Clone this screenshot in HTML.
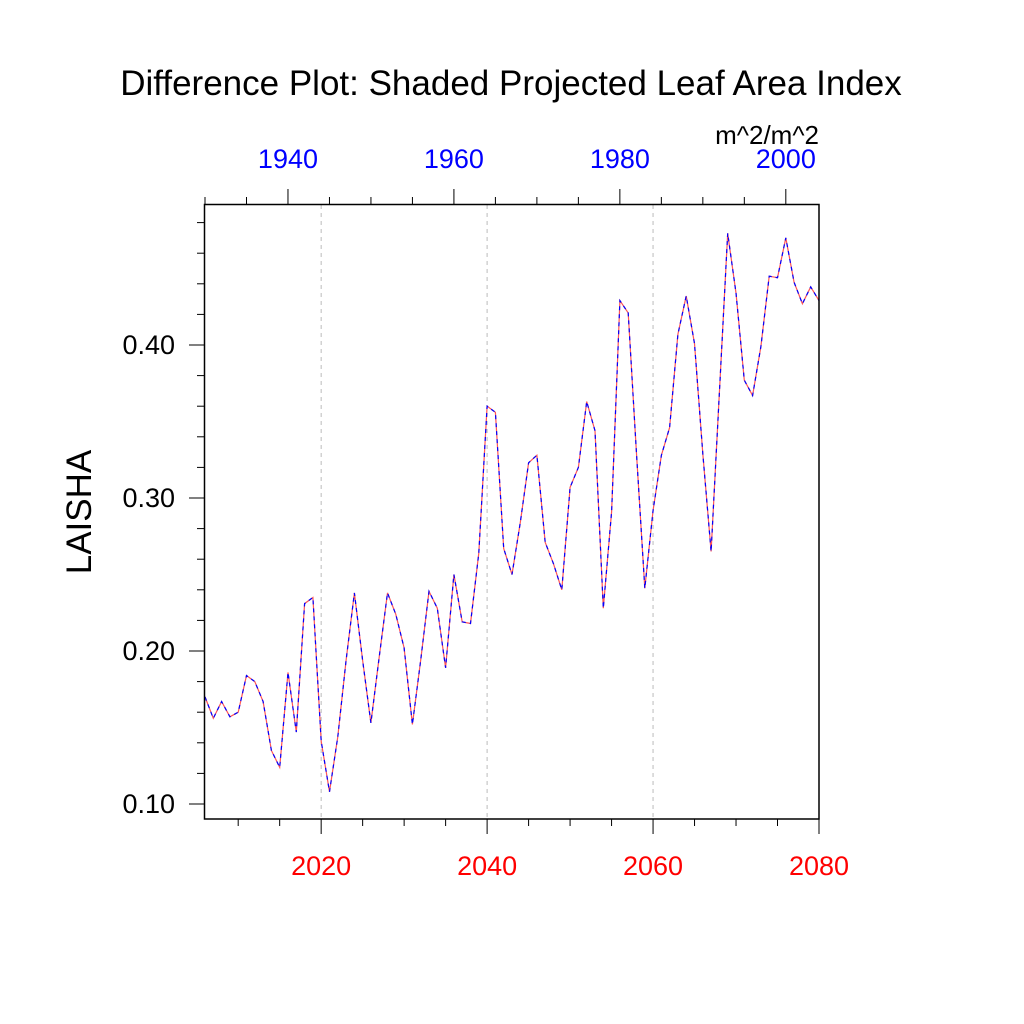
<!DOCTYPE html>
<html><head><meta charset="utf-8"><style>body{margin:0;background:#fff}svg{display:block}</style></head>
<body>
<svg width="1024" height="1024" viewBox="0 0 1024 1024" font-family="Liberation Sans, sans-serif">
<g id="grid"></g>
<g id="ticks"></g>
<g id="lines"></g>
<rect x="204.5" y="204.5" width="614.5" height="614.5" fill="none" stroke="#000" stroke-width="1.5"/>
<text x="511" y="95" font-size="35" text-anchor="middle">Difference Plot: Shaded Projected Leaf Area Index</text>
<text x="819" y="144" font-size="26" text-anchor="end">m^2/m^2</text>
<text x="91" y="512" font-size="35" text-anchor="middle" transform="rotate(-90 91 512)">LAISHA</text>
<g id="labels"></g>
</svg>
<script>
const years = [];
for (let y = 2006; y <= 2080; y++) years.push(y);
const values = [0.170,0.156,0.167,0.157,0.160,0.184,0.180,0.167,0.135,0.124,0.186,0.147,0.231,0.235,0.141,0.108,0.144,0.194,0.238,0.194,0.153,0.196,0.238,0.224,0.202,0.152,0.194,0.239,0.228,0.189,0.250,0.219,0.218,0.264,0.360,0.356,0.267,0.250,0.284,0.323,0.328,0.271,0.257,0.240,0.307,0.320,0.363,0.344,0.228,0.291,0.429,0.421,0.329,0.241,0.292,0.328,0.346,0.407,0.432,0.401,0.329,0.265,0.369,0.473,0.434,0.377,0.367,0.399,0.445,0.444,0.470,0.441,0.427,0.438,0.429];
const bottomTicks = [2020, 2040, 2060, 2080];
const topTicks = [1940, 1960, 1980, 2000];
const yTicks = [0.10, 0.20, 0.30, 0.40];
const topOffset = 76;
const NS = 'http://www.w3.org/2000/svg';
const X0 = 2006, X1 = 2080, PX0 = 205, PX1 = 819;
const xs = v => PX0 + (v - X0) / (X1 - X0) * (PX1 - PX0);
const ys = v => 345 - (v - 0.40) * 1530;
function mk(tag, attrs, parent) {
  const e = document.createElementNS(NS, tag);
  for (const k in attrs) e.setAttribute(k, attrs[k]);
  parent.appendChild(e); return e;
}
const grid = document.getElementById('grid'), ticks = document.getElementById('ticks'), labels = document.getElementById('labels'), lines = document.getElementById('lines');
bottomTicks.forEach(t => {
  if (t < X1) {
    const g = mk('line', {x1: xs(t), x2: xs(t), y1: 205, y2: 819, stroke: '#bbb', 'stroke-width': 1, 'stroke-dasharray': '4,4'}, grid);
    
    
  }
  const tk = mk('line', {x1: xs(t), x2: xs(t), y1: 819, y2: 834, stroke: '#000', 'stroke-width': 1}, ticks);
  
  
  const l = mk('text', {x: xs(t), y: 875, 'font-size': 27, fill: '#f00', 'text-anchor': 'middle'}, labels);
  l.textContent = t;
  
  
});
for (let t = 2010; t < X1; t += 5) {
  if (bottomTicks.includes(t)) continue;
  const tk = mk('line', {x1: xs(t), x2: xs(t), y1: 819, y2: 826, stroke: '#000', 'stroke-width': 1}, ticks);
  
  
}
for (let t = 1930; t <= 2004; t += 5) {
  const x = xs(t + topOffset);
  if (x < 204) continue;
  const major = topTicks.includes(t);
  const tk = mk('line', {x1: x, x2: x, y1: 204, y2: major ? 189 : 197, stroke: '#000', 'stroke-width': 1}, ticks);
  
  
}
topTicks.forEach(t => {
  const l = mk('text', {x: xs(t + topOffset), y: 168, 'font-size': 27, fill: '#00f', 'text-anchor': 'middle'}, labels);
  l.textContent = t;
  
  
});
for (let i = 5; i <= 24; i++) {
  const v = i * 0.02, y = ys(v);
  if (y < 205 || y > 819) continue;
  const major = i % 5 === 0;
  const tk = mk('line', {x1: 204, x2: major ? 189 : 197, y1: y, y2: y, stroke: '#000', 'stroke-width': 1}, ticks);
  
  
}
yTicks.forEach(v => {
  const l = mk('text', {x: 175, y: ys(v) + 9, 'font-size': 27, 'text-anchor': 'end'}, labels);
  l.textContent = v.toFixed(2);
  
  
});
const pts = years.map((yr, i) => xs(yr).toFixed(1) + ',' + ys(values[i]).toFixed(1)).join(' ');
const red = mk('polyline', {points: pts, fill: 'none', stroke: '#f55', 'stroke-width': 1.2}, lines);


const blue = mk('polyline', {points: pts, fill: 'none', stroke: '#00f', 'stroke-width': 1.2, 'stroke-dasharray': '4,4'}, lines);


</script>
</body></html>
